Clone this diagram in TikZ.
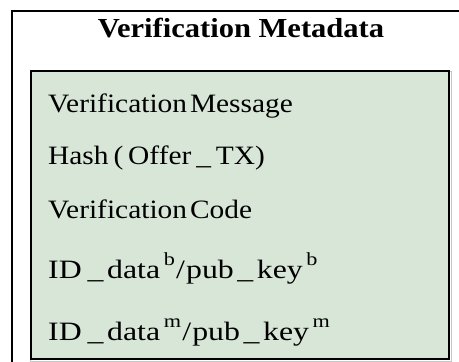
\documentclass[tikz,border=0pt]{standalone}
\usepackage{graphicx}
\usepackage{fontspec}
\setmainfont{Liberation Serif}
\definecolor{panelgreen}{RGB}{216,230,216}
\newcommand{\widetext}[1]{\scalebox{1.11}[1]{#1}}
\newcommand{\widerid}[1]{\scalebox{1.2}[1]{#1}}
\newcommand{\supx}[1]{\hspace{3pt}\raisebox{13pt}{\fontsize{18.5}{20}\selectfont #1}}
\begin{document}
\begin{tikzpicture}[x=1pt,y=-1pt,
  frame/.style={draw=black,line width=2.4pt},
  panel/.style={draw=black,line width=2.6pt,fill=panelgreen},
  item/.style={anchor=base west,inner sep=0pt,font=\fontsize{26.5}{30}\selectfont},
  headline/.style={anchor=base,inner sep=0pt,font=\fontsize{27.5}{32}\selectfont\bfseries}]
\useasboundingbox (0,0) rectangle (459,362);
\clip (0,0) rectangle (459,362);
\fill[white] (0,0) rectangle (459,362);
\draw[frame] (12,11) rectangle (480,390);
\draw[gray!45,line width=1pt] (30,71) rectangle (451,361);
\draw[panel] (31,71) rectangle (449,359);
\node[headline] (title) at (241,37.5) {\widetext{Verification Metadata}};
\node[item] (l1) at (48,112) {\widetext{Verification\hspace{0.1em}Message}};
\node[item] (l2) at (48,164) {\widetext{Hash\,(\,Offer\,\_\,TX)}};
\node[item] (l3) at (48,218) {\widetext{Verification\hspace{0.1em}Code}};
\node[item] (l4) at (48,278) {\widerid{ID\hspace{5pt}\_\hspace{3pt}data\supx{b}\hspace{1pt}/\hspace{1pt}pub\hspace{3pt}\_\hspace{3pt}key\supx{b}}};
\node[item] (l5) at (48,340) {\widerid{ID\hspace{5pt}\_\hspace{3pt}data\supx{m}\hspace{1pt}/\hspace{1pt}pub\hspace{3pt}\_\hspace{3pt}key\supx{m}}};
\end{tikzpicture}
\end{document}
